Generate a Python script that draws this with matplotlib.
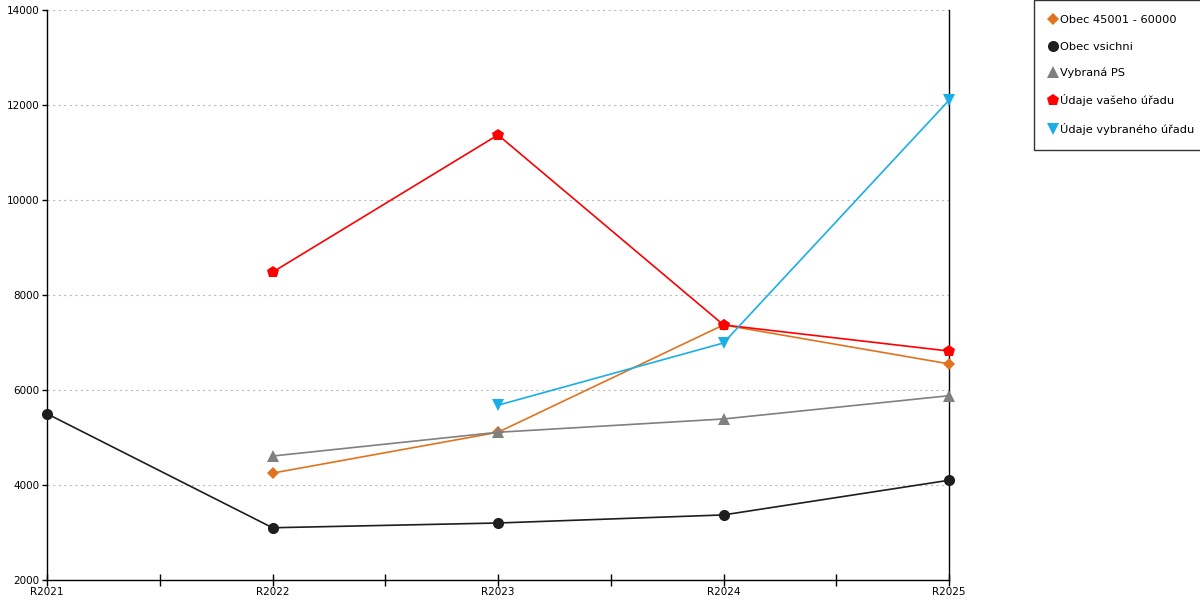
import matplotlib.pyplot as plt
import numpy as np
from matplotlib.lines import Line2D

plt.rcParams["font.family"] = ["DejaVu Sans"]

years = ["R2021", "R2022", "R2023", "R2024", "R2025"]

# values, None where the series has no point
obec_45001_60000 = [None, 4250, 5110, 7370, 6550]
obec_vsichni = [5500, 3100, 3200, 3370, 4100]
vybrana_ps = [None, 4610, 5110, 5390, 5880]
udaje_vaseho = [None, 8480, 11370, 7370, 6820]
udaje_vybraneho = [None, None, 5680, 6990, 12100]

series = [
    ("Obec 45001 - 60000", obec_45001_60000, "#e0731f", "D", 6),
    ("Obec vsichni", obec_vsichni, "#1e1e1e", "o", 8),
    ("Vybraná PS", vybrana_ps, "#808080", "^", 8),
    ("Údaje vašeho úřadu", udaje_vaseho, "#ff0000", "p", 9),
    ("Údaje vybraného úřadu", udaje_vybraneho, "#1aaee8", "v", 8),
]

fig = plt.figure(figsize=(12, 6), dpi=100)
ax = fig.add_axes([47 / 1200, 20 / 600, 902 / 1200, 570 / 600])

x = np.arange(len(years))
handles = []
for name, vals, color, marker, ms in series:
    y = np.array([np.nan if v is None else v for v in vals], dtype=float)
    ax.plot(x, y, color=color, marker=marker, markersize=ms, linewidth=1.2,
            markeredgewidth=0, zorder=3, clip_on=False)
    handles.append(Line2D([], [], color=color, marker=marker, markersize=ms,
                          linestyle="none", markeredgewidth=0, label=name))

ax.set_xlim(0, len(years) - 1)
ax.set_ylim(2000, 14000)
ax.set_xticks(x)
ax.set_xticklabels(years)
ax.set_xticks(x[:-1] + 0.5, minor=True)
ax.set_yticks(range(2000, 14001, 2000))

ax.spines["top"].set_visible(False)
for s in ["left", "bottom", "right"]:
    ax.spines[s].set_linewidth(1)
    ax.spines[s].set_color("black")

ax.tick_params(axis="x", which="both", direction="inout", length=8, width=1,
               labelsize=7.5, pad=1)
ax.tick_params(axis="y", direction="out", length=3.5, width=1, labelsize=7.5, pad=2)
ax.tick_params(axis="y", which="both", right=False)
ax.yaxis.grid(True, color="#bbbbbb", linestyle=(0, (2, 3)), linewidth=0.8)
ax.set_axisbelow(True)

leg = fig.legend(handles=handles, loc="upper left",
                 bbox_to_anchor=(1034 / 1200, 1.0), fontsize=8.2,
                 frameon=True, fancybox=False, edgecolor="black",
                 labelspacing=1.42, handlelength=0.6, handletextpad=0.35,
                 borderpad=1.35, borderaxespad=0)
leg.get_frame().set_linewidth(1)

fig.savefig("out.png", dpi=100)
